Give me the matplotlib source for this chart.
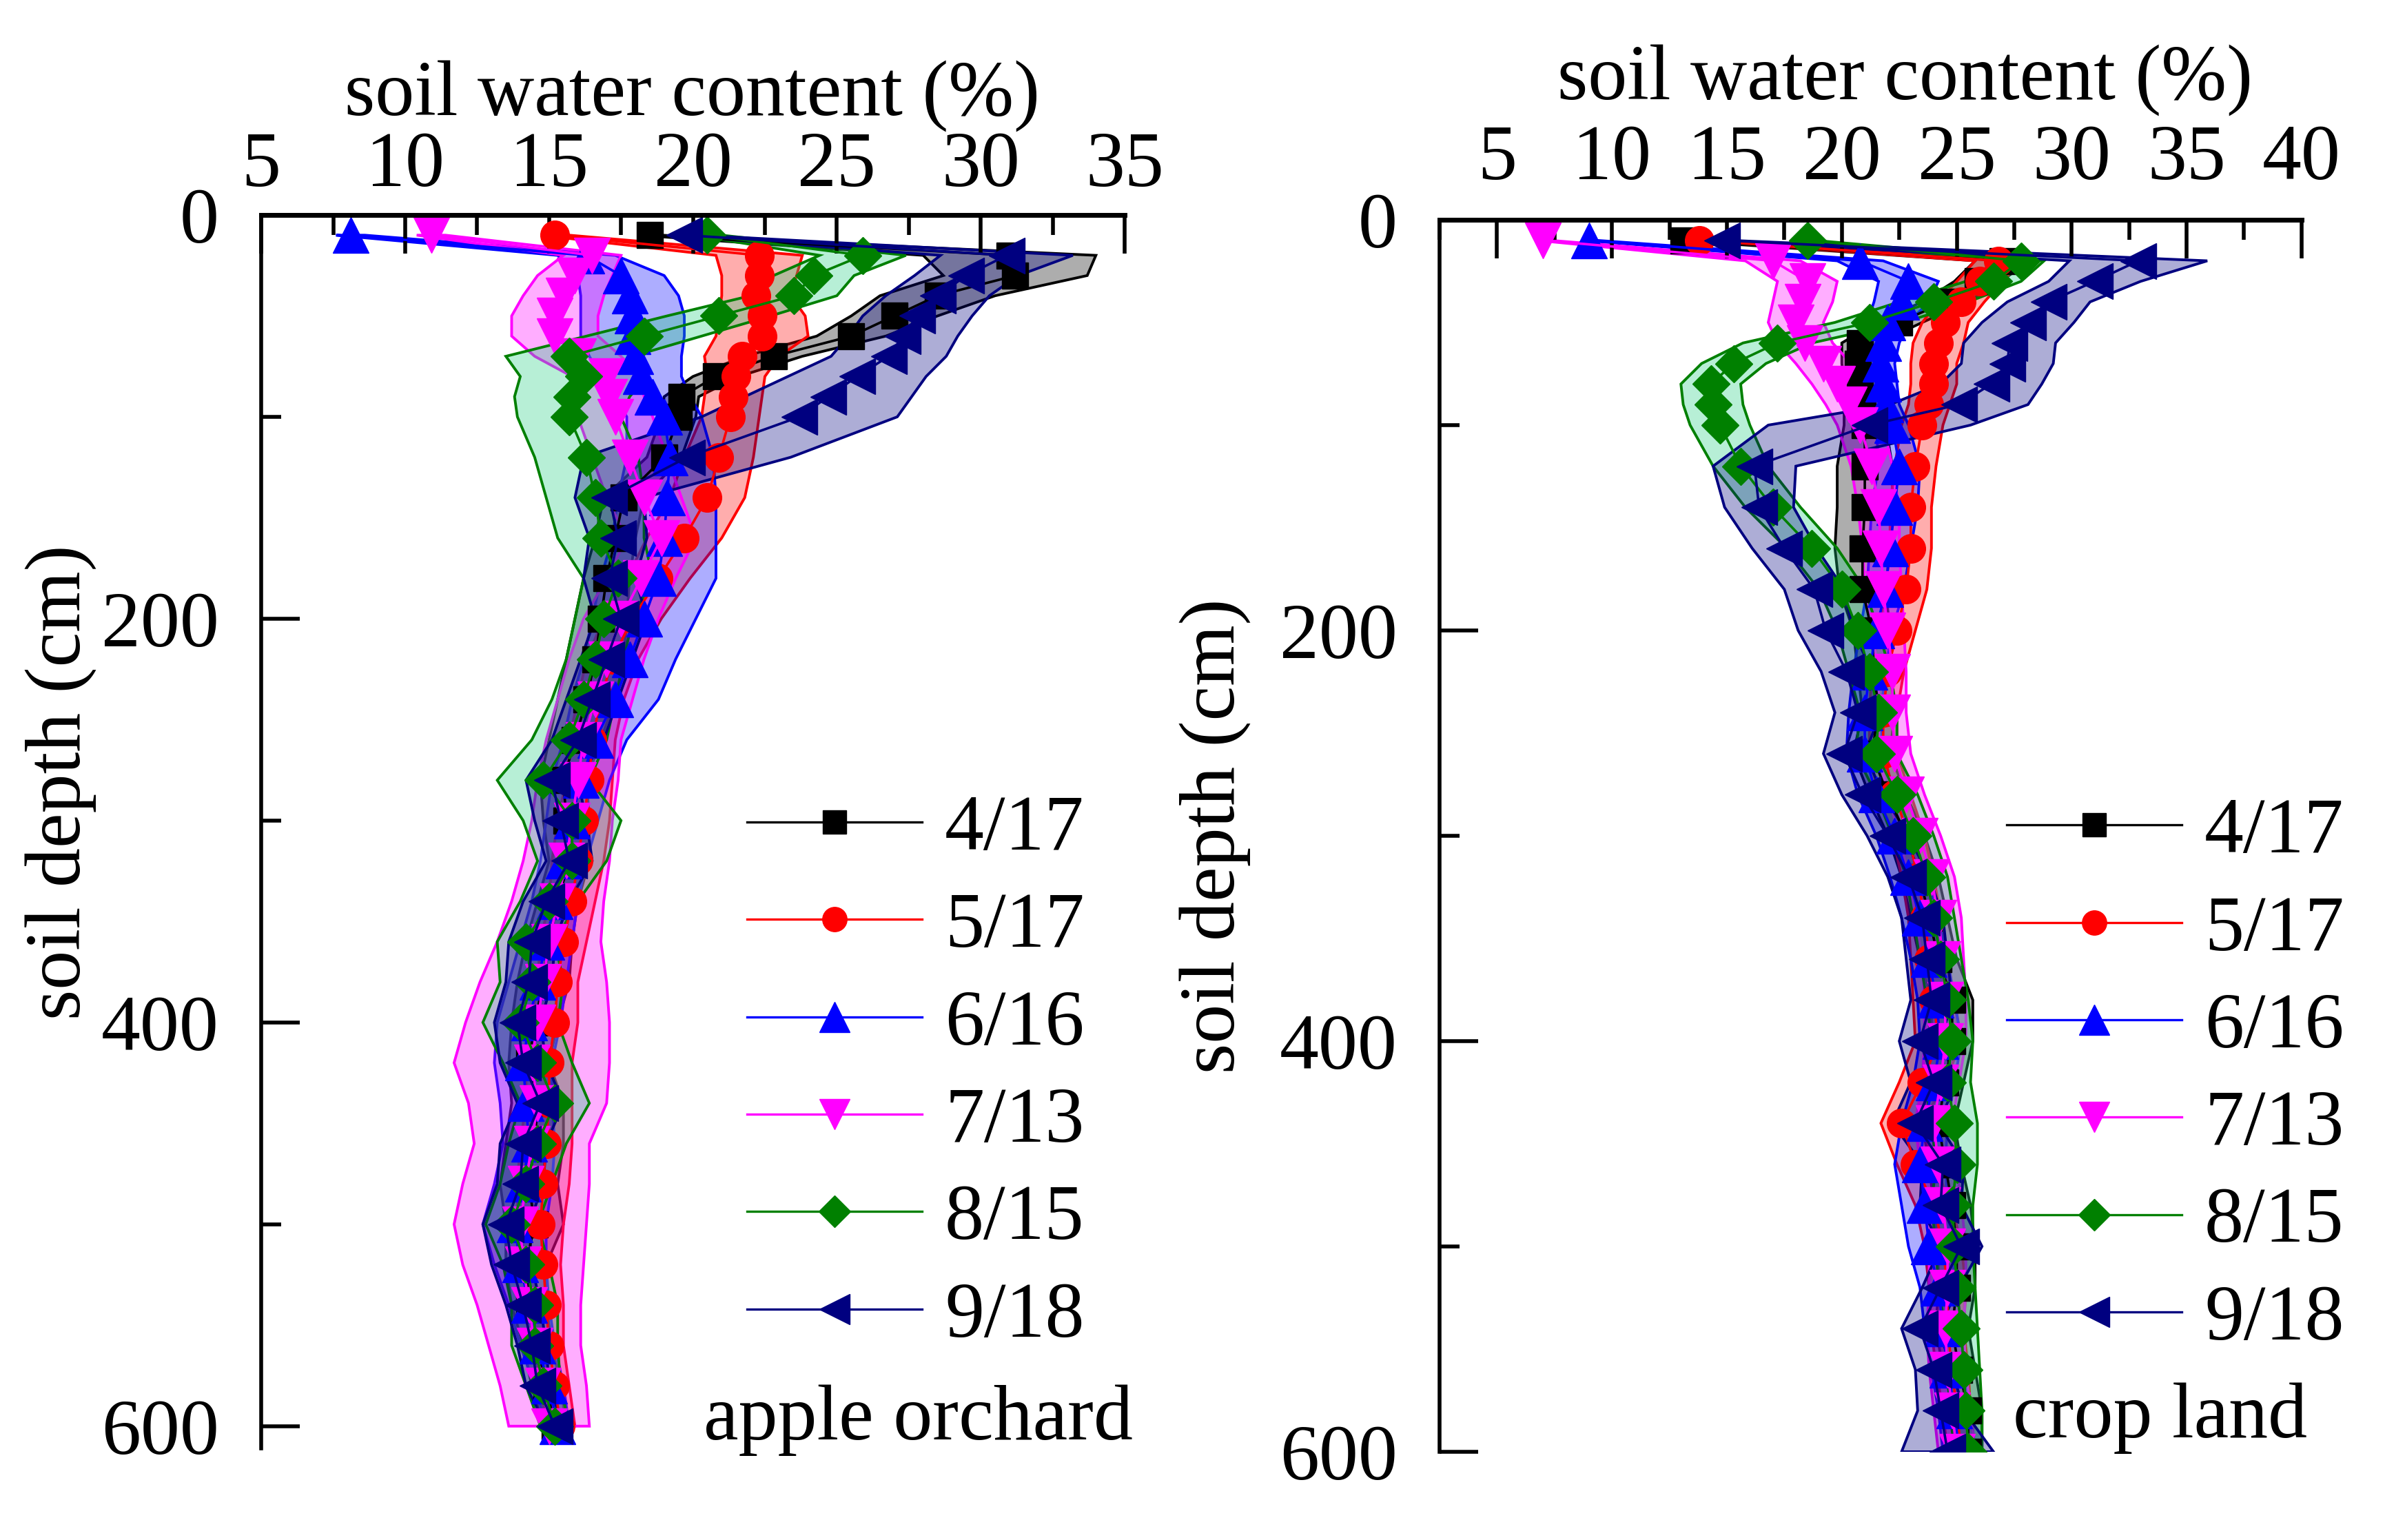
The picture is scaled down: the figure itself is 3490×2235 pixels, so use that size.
import numpy as np
import matplotlib
matplotlib.use("Agg")
import matplotlib.pyplot as plt
from matplotlib.ticker import MultipleLocator
from matplotlib.lines import Line2D
from matplotlib.colors import to_rgba

plt.rcParams['font.family'] = ['Liberation Serif', 'DejaVu Serif']

# sampling depths (cm)
depth = [10, 20, 30, 40, 50, 60, 70, 80, 90, 100, 120, 140, 160, 180, 200, 220, 240, 260, 280, 300,
         320, 340, 360, 380, 400, 420, 440, 460, 480, 500, 520, 540, 560, 580, 600]
dates = ["4/17", "5/17", "6/16", "7/13", "8/15", "9/18"]

# apple orchard: mean soil water content (%) and its spread, one list per date
orchard_0417 = [18.5, 31.0, 31.2, 28.5, 27.0, 25.5, 22.8, 20.8, 19.6, 19.5, 19.0, 17.6, 17.3, 17.0, 16.8, 16.6, 16.3, 15.9,
                15.5, 15.6, 15.7, 15.3, 15.0, 14.8, 14.5, 14.3, 14.6, 14.5, 14.3, 14.5, 14.2, 14.3, 14.6, 14.9, 15.2]
orchard_0417_sd = [0.4, 3.0, 2.5, 2.0, 1.5, 1.2, 1.0, 0.8, 0.6, 0.6, 0.6, 0.7, 0.7, 0.8, 0.9, 1.0, 1.0, 0.9,
                   0.8, 0.8, 0.7, 0.7, 0.8, 0.9, 0.8, 0.7, 0.9, 1.0, 1.0, 1.0, 0.7, 0.6, 0.5, 0.5, 0.4]
orchard_0517 = [15.2, 22.3, 22.3, 22.2, 22.4, 22.4, 21.7, 21.5, 21.4, 21.3, 20.9, 20.5, 19.7, 18.8, 17.9, 17.2, 16.8, 16.5,
                16.4, 16.2, 16.0, 15.8, 15.5, 15.3, 15.2, 15.0, 15.0, 14.9, 14.8, 14.7, 14.8, 14.9, 15.0, 15.2, 15.4]
orchard_0517_sd = [0.5, 1.5, 1.3, 1.2, 1.5, 1.6, 1.3, 1.0, 1.0, 1.0, 1.2, 1.3, 1.3, 1.1, 1.0, 0.9, 0.8, 0.8,
                   0.8, 0.9, 0.9, 0.8, 0.8, 0.7, 0.8, 0.8, 0.8, 0.9, 0.9, 0.8, 0.6, 0.6, 0.5, 0.5, 0.5]
orchard_0616 = [8.1, 16.3, 17.5, 17.8, 17.9, 17.9, 18.0, 18.2, 18.6, 19.0, 19.2, 19.1, 19.0, 18.8, 18.3, 17.8, 17.3, 16.6,
                16.1, 15.8, 15.5, 15.2, 14.9, 14.6, 14.3, 14.1, 14.2, 14.3, 14.1, 13.8, 14.0, 14.3, 14.6, 15.0, 15.3]
orchard_0616_sd = [0.5, 1.0, 1.5, 1.7, 1.8, 1.8, 1.6, 1.4, 1.3, 1.3, 1.5, 1.7, 1.8, 2.0, 1.8, 1.6, 1.5, 1.1,
                   1.0, 0.9, 0.8, 0.8, 0.9, 1.0, 1.1, 1.0, 0.9, 0.9, 1.0, 1.1, 0.9, 0.7, 0.6, 0.5, 0.4]
orchard_0713 = [10.9, 16.5, 15.9, 15.5, 15.2, 15.2, 16.0, 17.0, 17.1, 17.3, 17.8, 18.3, 18.9, 18.2, 17.5, 17.0, 16.6, 16.2,
                16.0, 15.8, 15.6, 15.3, 15.0, 14.8, 14.6, 14.4, 14.6, 14.4, 14.2, 14.0, 14.1, 14.3, 14.5, 14.8, 15.0]
orchard_0713_sd = [0.5, 1.0, 1.3, 1.4, 1.5, 1.5, 1.5, 1.2, 1.2, 1.3, 1.3, 1.3, 1.2, 1.2, 1.3, 1.3, 1.3, 1.3,
                   1.4, 1.4, 1.5, 1.6, 1.8, 2.2, 2.5, 2.7, 2.4, 2.0, 2.2, 2.3, 2.1, 1.8, 1.6, 1.5, 1.4]
orchard_0815 = [20.5, 25.9, 24.2, 23.5, 20.9, 18.3, 15.7, 16.2, 15.8, 15.7, 16.3, 16.6, 16.8, 17.4, 16.9, 16.6, 16.2, 15.7,
                14.8, 15.8, 15.8, 15.0, 14.2, 14.4, 14.0, 14.6, 15.2, 14.6, 14.2, 13.7, 14.2, 14.5, 14.5, 14.8, 15.2]
orchard_0815_sd = [0.5, 1.5, 1.4, 1.5, 1.8, 2.0, 2.2, 2.2, 2.0, 1.8, 1.8, 1.7, 1.5, 1.2, 1.0, 1.0, 1.1, 1.3,
                   1.6, 1.7, 1.2, 1.0, 1.0, 1.1, 1.3, 1.2, 1.2, 1.0, 0.9, 0.9, 0.8, 0.8, 0.8, 0.6, 0.5]
orchard_0918 = [19.7, 30.9, 29.5, 28.5, 27.8, 27.3, 26.8, 25.7, 24.7, 23.7, 19.8, 17.1, 17.4, 17.1, 17.5, 17.0, 16.5, 16.0,
                15.1, 15.4, 15.7, 14.9, 14.4, 14.3, 13.9, 14.1, 14.7, 14.1, 14.0, 13.5, 13.7, 14.1, 14.4, 14.6, 15.2]
orchard_0918_sd = [0.5, 2.3, 1.8, 1.8, 1.9, 1.9, 2.0, 2.4, 2.9, 3.4, 3.6, 1.2, 1.0, 0.9, 0.9, 0.9, 0.9, 0.9,
                   0.9, 0.9, 0.8, 0.8, 0.8, 0.8, 0.8, 0.8, 0.8, 0.8, 0.8, 0.8, 0.7, 0.6, 0.5, 0.4, 0.3]

# crop land
crop_0417 = [13.1, 27.0, 25.9, 24.5, 22.5, 20.8, 20.7, 20.8, 20.9, 21.0, 21.0, 21.0, 20.9, 20.9, 21.3, 21.4, 21.6, 21.3,
             22.0, 22.8, 23.4, 23.8, 24.2, 24.8, 24.8, 24.5, 24.2, 24.5, 24.8, 25.0, 25.0, 24.8, 25.1, 25.5, 25.5]
crop_0417_sd = [0.3, 1.2, 1.0, 1.0, 1.0, 0.8, 0.7, 0.7, 0.8, 0.9, 1.2, 1.2, 1.2, 1.0, 0.8, 0.7, 0.7, 0.8,
                0.8, 0.8, 0.8, 0.8, 0.8, 0.9, 0.9, 0.8, 0.7, 0.7, 0.8, 0.8, 0.8, 0.7, 0.7, 0.6, 0.6]
crop_0517 = [13.8, 26.8, 26.0, 25.2, 24.5, 24.2, 24.0, 24.0, 23.8, 23.5, 23.2, 23.0, 23.0, 22.8, 22.4, 22.0, 21.8, 21.8,
             22.3, 22.9, 23.3, 23.6, 23.8, 24.0, 24.2, 23.5, 22.6, 23.2, 24.0, 24.4, 24.6, 24.6, 24.8, 25.0, 25.2]
crop_0517_sd = [0.3, 1.0, 1.0, 1.0, 1.0, 1.1, 1.0, 1.0, 0.9, 0.9, 0.9, 0.9, 0.9, 0.9, 0.8, 0.7, 0.6, 0.6,
                0.7, 0.7, 0.7, 0.7, 0.8, 0.9, 1.0, 1.0, 0.9, 0.8, 0.8, 0.8, 0.8, 0.7, 0.7, 0.6, 0.6]
crop_0616 = [9.0, 20.8, 22.9, 22.6, 22.0, 21.8, 21.7, 21.8, 21.9, 22.2, 22.5, 22.3, 22.1, 21.9, 21.5, 21.2, 21.0, 21.0,
             21.5, 22.3, 22.9, 23.4, 23.8, 24.1, 24.3, 24.0, 23.6, 23.4, 23.6, 23.8, 24.2, 24.4, 24.6, 24.9, 25.1]
crop_0616_sd = [0.3, 1.0, 1.3, 1.2, 0.9, 0.7, 0.6, 0.6, 0.6, 0.7, 0.9, 1.0, 0.9, 0.8, 0.7, 0.7, 0.7, 0.8,
                0.8, 0.8, 0.8, 0.8, 0.8, 0.8, 0.9, 0.9, 1.0, 1.1, 1.0, 0.9, 0.8, 0.8, 0.7, 0.7, 0.7]
crop_0713 = [7.0, 17.0, 18.5, 18.3, 18.0, 18.4, 19.2, 19.8, 20.3, 20.8, 21.3, 21.6, 21.7, 21.8, 22.0, 22.2, 22.2, 22.3,
             22.8, 23.4, 23.9, 24.2, 24.4, 24.5, 24.5, 24.3, 24.0, 24.2, 24.4, 24.6, 24.6, 24.5, 24.6, 24.8, 25.0]
crop_0713_sd = [0.3, 1.2, 1.3, 1.3, 1.2, 1.2, 1.2, 1.1, 1.0, 1.0, 0.9, 0.9, 0.8, 0.8, 0.7, 0.6, 0.6, 0.7,
                0.8, 0.9, 1.0, 1.0, 0.9, 0.9, 0.9, 0.8, 0.8, 0.8, 0.8, 0.8, 0.8, 0.8, 0.8, 0.8, 0.8]
crop_0815 = [18.5, 27.8, 26.6, 24.0, 21.2, 17.2, 15.3, 14.3, 14.4, 14.7, 15.6, 17.0, 18.7, 20.0, 20.7, 21.2, 21.6, 21.5,
             22.4, 23.1, 23.7, 24.0, 24.3, 24.6, 24.8, 24.6, 24.9, 25.0, 24.8, 24.9, 25.0, 25.2, 25.3, 25.4, 25.5]
crop_0815_sd = [0.3, 1.0, 1.2, 1.5, 1.5, 1.5, 1.4, 1.3, 1.3, 1.3, 1.2, 1.2, 1.1, 1.0, 0.9, 0.9, 0.8, 0.9,
                0.9, 0.9, 0.9, 0.9, 0.9, 0.9, 0.9, 1.0, 1.0, 0.9, 0.9, 0.8, 0.8, 0.7, 0.7, 0.7, 0.6]
crop_0918 = [14.8, 32.9, 31.0, 29.0, 28.1, 27.3, 27.2, 26.5, 25.1, 21.2, 16.2, 16.4, 17.5, 18.8, 19.3, 20.2, 20.7, 20.1,
             20.9, 22.0, 22.9, 23.5, 23.7, 23.9, 23.4, 24.0, 23.2, 24.4, 24.3, 25.2, 24.3, 23.4, 24.0, 24.3, 24.6]
crop_0918_sd = [0.3, 3.0, 2.0, 1.8, 2.0, 2.0, 2.0, 2.2, 3.0, 4.4, 1.8, 1.5, 1.4, 1.3, 1.2, 1.1, 1.0, 0.9,
                0.9, 0.9, 0.9, 0.9, 0.9, 0.9, 0.9, 1.0, 1.0, 0.9, 0.9, 0.9, 0.8, 0.8, 0.8, 1.0, 2.0]

orchard_means = [orchard_0417, orchard_0517, orchard_0616, orchard_0713, orchard_0815, orchard_0918]
orchard_sds = [orchard_0417_sd, orchard_0517_sd, orchard_0616_sd, orchard_0713_sd, orchard_0815_sd, orchard_0918_sd]
crop_means = [crop_0417, crop_0517, crop_0616, crop_0713, crop_0815, crop_0918]
crop_sds = [crop_0417_sd, crop_0517_sd, crop_0616_sd, crop_0713_sd, crop_0815_sd, crop_0918_sd]

# styles
line_colors = ['black', 'red', 'blue', 'magenta', 'green', 'navy']
fill_colors = ['black', 'red', 'blue', 'magenta', '#20d080', 'navy']
markers = ['s', 'o', '^', 'v', 'D', '<']
msizes = [28, 30, 37, 37, 28, 37]
FS = 82


def draw_panel(ax, means, sds, xmin, xmax, ymax, xpad):
    d = np.array(depth)
    for i in range(len(means)):
        m = np.array(means[i])
        s = np.array(sds[i])
        # shaded band (mean +- sd) with solid outline
        ax.fill(np.r_[m - s, (m + s)[::-1]], np.r_[d, d[::-1]],
                facecolor=to_rgba(fill_colors[i], 0.32), edgecolor=line_colors[i], lw=2.8)
        ax.plot(m, d, color=line_colors[i], lw=2.6, marker=markers[i], ms=msizes[i],
                mec=line_colors[i], mfc=line_colors[i])

    ax.set_xlim(xmin, xmax)
    ax.set_ylim(ymax, 0)
    ax.xaxis.tick_top()
    ax.xaxis.set_label_position('top')
    ax.xaxis.set_major_locator(MultipleLocator(5))
    ax.xaxis.set_minor_locator(MultipleLocator(2.5))
    ax.yaxis.set_major_locator(MultipleLocator(200))
    ax.yaxis.set_minor_locator(MultipleLocator(100))
    ax.spines['right'].set_visible(False)
    ax.spines['bottom'].set_visible(False)
    ax.spines['top'].set_linewidth(5)
    ax.spines['left'].set_linewidth(4)
    ax.tick_params(axis='x', which='both', direction='in', top=True, bottom=False,
                   labelsize=FS, width=4, pad=xpad)
    ax.tick_params(axis='y', which='both', direction='in', left=True, right=False,
                   labelsize=FS, width=4, pad=44)
    ax.tick_params(which='major', length=40)
    ax.tick_params(which='minor', length=21)

    handles = [Line2D([], [], color=line_colors[i], lw=2.4, marker=markers[i],
                      ms=msizes[i] * 0.85, mec=line_colors[i], mfc=line_colors[i])
               for i in range(len(dates))]
    return handles


fig = plt.figure(figsize=(34.91, 22.35), dpi=100)
ax1 = fig.add_axes([0.1086, 0.0595, 0.3589, 0.8009])
ax2 = fig.add_axes([0.5984, 0.0573, 0.3583, 0.8000])

h1 = draw_panel(ax1, orchard_means, orchard_sds, 5, 35, 611, 13)
h2 = draw_panel(ax2, crop_means, crop_sds, 2.5, 40, 600, 25)

ax1.set_xlabel("soil water content (%)", fontsize=FS)
ax1.xaxis.set_label_coords(0.499, 1.081)
ax2.set_xlabel("soil water content (%)", fontsize=FS)
ax2.xaxis.set_label_coords(0.540, 1.098)
ax1.set_ylabel("soil depth (cm)", fontsize=FS)
ax1.yaxis.set_label_coords(-0.191, 0.540)
ax2.set_ylabel("soil depth (cm)", fontsize=FS)
ax2.yaxis.set_label_coords(-0.219, 0.500)

ax1.legend(h1, dates, loc='upper left', bbox_to_anchor=(0.5626, 0.530), frameon=False,
           fontsize=FS, handlelength=2.23, handletextpad=0.29, labelspacing=0.33,
           borderpad=0, borderaxespad=0)
ax2.legend(h2, dates, loc='upper left', bbox_to_anchor=(0.658, 0.531), frameon=False,
           fontsize=FS, handlelength=2.23, handletextpad=0.29, labelspacing=0.33,
           borderpad=0, borderaxespad=0)

ax1.text(0.512, 0.023, "apple orchard", transform=ax1.transAxes, fontsize=FS,
         ha='left', va='center')
ax2.text(0.665, 0.027, "crop land", transform=ax2.transAxes, fontsize=FS,
         ha='left', va='center')

fig.savefig("out.png", dpi=100, facecolor='white')
